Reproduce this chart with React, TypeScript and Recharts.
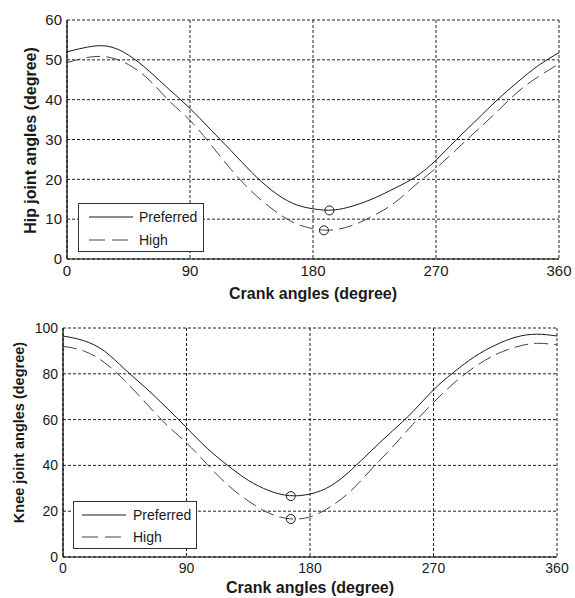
import React from 'react';
import { ComposedChart, Line, XAxis, YAxis, CartesianGrid, ReferenceDot } from 'recharts';

const angles = [0, 15, 30, 45, 60, 75, 90, 105, 120, 135, 150, 165, 180, 195, 210, 225, 240, 255, 270, 285, 300, 315, 330, 345, 360];
const hipPreferred = [52, 53.2, 53.4, 51.2, 47.2, 42.5, 37.8, 32.5, 27.2, 21.8, 17.2, 14, 12.6, 12.3, 13.4, 15.3, 17.8, 20.6, 24.8, 30, 35, 40, 44.5, 48.6, 51.8];
const hipHigh = [49.3, 50.6, 50.7, 48.8, 45, 39.6, 34.8, 28.8, 22.5, 17, 12.6, 9.3, 7.6, 7.3, 8.6, 11, 14.2, 18.6, 22.8, 27.5, 32.3, 37.1, 42, 45.8, 49];
const kneePreferred = [96.5, 94.5, 90, 82, 74, 65.5, 56.5, 47.5, 40, 33.5, 29, 26.8, 27.5, 31, 38, 46.6, 55, 63.5, 73, 80.8, 87.5, 92.5, 96, 97.3, 96.5];
const kneeHigh = [92, 90, 85, 77, 67.5, 58, 49.8, 40.5, 31.5, 24.5, 19.2, 16.7, 17.5, 22, 29, 38.5, 48, 58, 67.5, 76, 83, 88.3, 91.7, 93.3, 92.6];

const hipMarkers = [{ angle: 192, value: 12.2 }, { angle: 188, value: 7.2 }];
const kneeMarkers = [{ angle: 166, value: 26.6 }, { angle: 166, value: 16.6 }];

const xTicks = [0, 90, 180, 270, 360];
const hipTicks = [0, 10, 20, 30, 40, 50, 60];
const kneeTicks = [0, 20, 40, 60, 80, 100];

const seriesNames = ['Preferred', 'High'];
const xTitle = 'Crank angles (degree)';
const hipTitle = 'Hip joint angles (degree)';
const kneeTitle = 'Knee joint angles (degree)';

const FONT = '"Liberation Sans", Arial, sans-serif';
const INK = '#1a1a1a';

const hipData = angles.map((a, i) => ({ angle: a, pref: hipPreferred[i], high: hipHigh[i] }));
const kneeData = angles.map((a, i) => ({ angle: a, pref: kneePreferred[i], high: kneeHigh[i] }));

const LegendBox = ({ left, top, width, height, lineX1, lineX2, textX, y1, y2 }: any) => (
  <div style={{ position: 'absolute', left, top, width, height, boxSizing: 'border-box', border: '1px solid #333', background: '#fff' }}>
    <svg style={{ position: 'absolute', left: 0, top: 0, display: 'block' }} width={width - 2} height={height - 2}>
      <line x1={lineX1} x2={lineX2} y1={y1} y2={y1} stroke={INK} strokeWidth={1} />
      <line x1={lineX1} x2={lineX2} y1={y2} y2={y2} stroke="#444" strokeWidth={1} strokeDasharray="16 7" />
      <text x={textX} y={y1} dominantBaseline="central" fontSize={14} fill={INK} fontFamily={FONT}>{seriesNames[0]}</text>
      <text x={textX} y={y2} dominantBaseline="central" fontSize={14} fill={INK} fontFamily={FONT}>{seriesNames[1]}</text>
    </svg>
  </div>
);

function Panel({ data, yTicks, yMax, yTitle, markers, width, height, margin, yAxisWidth, yTitleOffset, yTitleSize, yTitleShift, xTitleOffset, tickSize, legend }: any) {
  return (
    <div style={{ position: 'relative', width, height }}>
      <ComposedChart width={width} height={height} data={data} margin={margin}>
        <CartesianGrid stroke="#222" strokeDasharray="3 2" strokeWidth={1} />
        <XAxis
          dataKey="angle"
          type="number"
          domain={[0, 360]}
          ticks={xTicks}
          interval={0}
          height={41}
          tickLine={false}
          tickSize={3}
          tickMargin={3}
          axisLine={{ stroke: '#000', strokeWidth: 1.2 }}
          tick={{ fontSize: tickSize, fill: INK, fontFamily: FONT }}
          label={(p: any) => {
            const vb = p.viewBox;
            return (
              <text x={vb.x + vb.width / 2} y={vb.y + xTitleOffset} textAnchor="middle" dominantBaseline="central" fontSize={16} fontWeight="bold" fill={INK} fontFamily={FONT}>{xTitle}</text>
            );
          }}
        />
        <YAxis
          type="number"
          domain={[0, yMax]}
          ticks={yTicks}
          interval={0}
          width={yAxisWidth}
          tickLine={false}
          tickSize={3}
          tickMargin={2}
          axisLine={{ stroke: '#000', strokeWidth: 1.2 }}
          tick={{ fontSize: tickSize, fill: INK, fontFamily: FONT }}
          label={(p: any) => {
            const vb = p.viewBox;
            const cx = vb.x + vb.width - yTitleOffset;
            const cy = vb.y + vb.height / 2 + yTitleShift;
            return (
              <text x={cx} y={cy} transform={`rotate(-90 ${cx} ${cy})`} textAnchor="middle" dominantBaseline="central" fontSize={yTitleSize} fontWeight="bold" fill={INK} fontFamily={FONT}>{yTitle}</text>
            );
          }}
        />
        <Line dataKey="pref" name={seriesNames[0]} type="natural" stroke={INK} strokeWidth={1} dot={false} isAnimationActive={false} />
        <Line dataKey="high" name={seriesNames[1]} type="natural" stroke="#444" strokeWidth={1} strokeDasharray="14 6" dot={false} isAnimationActive={false} />
        {markers.map((m: any, i: number) => (
          <ReferenceDot key={i} x={m.angle} y={m.value} r={4.5} fill="none" stroke={INK} strokeWidth={1} />
        ))}
      </ComposedChart>
      <LegendBox {...legend} />
    </div>
  );
}

export default function App() {
  return (
    <div style={{ position: 'absolute', left: 0, top: 0, width: 575, height: 598, background: '#fff' }}>
      <div style={{ position: 'absolute', left: 0, top: 0 }}>
        <Panel
          data={hipData}
          yTicks={hipTicks}
          yMax={60}
          yTitle={hipTitle}
          markers={hipMarkers}
          width={575}
          height={310}
          margin={{ top: 20, right: 16, left: 0, bottom: 10 }}
          yAxisWidth={67}
          yTitleOffset={37}
          yTitleSize={16}
          yTitleShift={1}
          xTitleOffset={34}
          tickSize={15}
          legend={{ left: 78, top: 203, width: 126, height: 49, lineX1: 10, lineX2: 54, textX: 60, y1: 13, y2: 36 }}
        />
      </div>
      <div style={{ position: 'absolute', left: 0, top: 300 }}>
        <Panel
          data={kneeData}
          yTicks={kneeTicks}
          yMax={100}
          yTitle={kneeTitle}
          markers={kneeMarkers}
          width={575}
          height={298}
          margin={{ top: 28, right: 18, left: 0, bottom: 0 }}
          yAxisWidth={63}
          yTitleOffset={44}
          yTitleSize={14.5}
          yTitleShift={-10}
          xTitleOffset={30}
          tickSize={14}
          legend={{ left: 73, top: 201, width: 124, height: 48, lineX1: 8, lineX2: 52, textX: 59, y1: 13, y2: 35 }}
        />
      </div>
    </div>
  );
}
